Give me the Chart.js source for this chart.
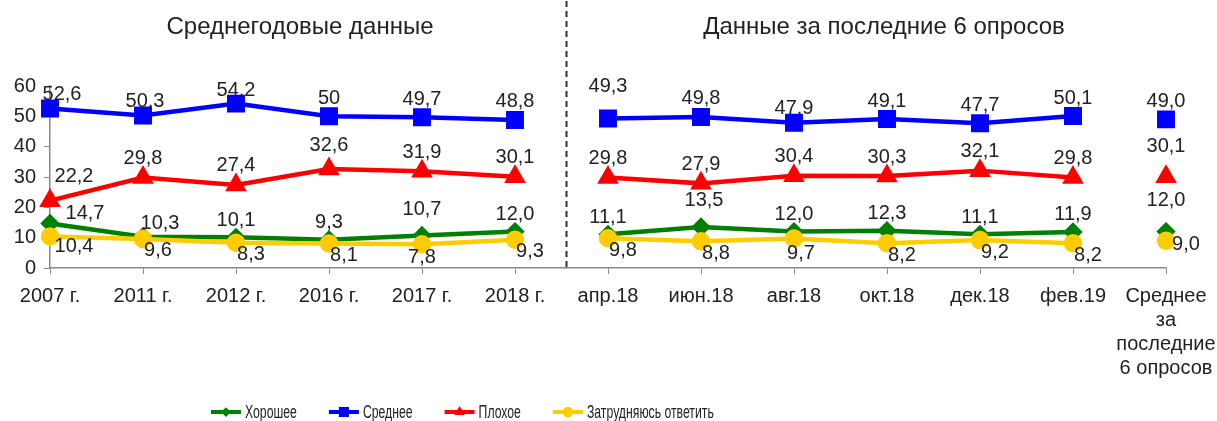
<!DOCTYPE html>
<html>
<head>
<meta charset="utf-8">
<script src="https://cdn.jsdelivr.net/npm/chart.js@4/dist/chart.umd.min.js"></script>
<style>
  html, body { margin: 0; padding: 0; background: #fff; }
</style>
</head>
<body>
<canvas id="myChart" width="1217" height="421"></canvas>
<script>

// categories: 6 yearly values, 6 last surveys, then the average of them
const categories = ['2007 г.', '2011 г.', '2012 г.', '2016 г.', '2017 г.', '2018 г.',
  'апр.18', 'июн.18', 'авг.18', 'окт.18', 'дек.18', 'фев.19',
  ['Среднее', 'за', 'последние', '6 опросов']];

const good    = [14.7, 10.3, 10.1, 9.3, 10.7, 12.0, 11.1, 13.5, 12.0, 12.3, 11.1, 11.9, 12.0];
const average = [52.6, 50.3, 54.2, 50, 49.7, 48.8, 49.3, 49.8, 47.9, 49.1, 47.7, 50.1, 49.0];
const bad     = [22.2, 29.8, 27.4, 32.6, 31.9, 30.1, 29.8, 27.9, 30.4, 30.3, 32.1, 29.8, 30.1];
const unsure  = [10.4, 9.6, 8.3, 8.1, 7.8, 9.3, 9.8, 8.8, 9.7, 8.2, 9.2, 8.2, 9.0];

const yTicks = [0, 10, 20, 30, 40, 50, 60];
const titles = ['Среднегодовые данные', 'Данные за последние 6 опросов'];

const FONT = '"Liberation Sans", Arial, sans-serif';
const TEXT = '#222';

// no line between the blocks (after 2018 г. and after фев.19)
const breakAfter = [5, 11];
const segHide = (ctx) => breakAfter.includes(ctx.p0DataIndex) ? 'rgba(0,0,0,0)' : undefined;

function fmt(v, ds, i) {
  if (ds === 1 && i === 3) return '50';
  return v.toFixed(1).replace('.', ',');
}

// label placement relative to the marker (dx, dy)
const labelPos = {
  0: { def: [0, -17], 0: [35, -10], 1: [17, -13], 4: [0, -26], 7: [3, -27], 12: [0, -31] },
  1: { def: [0, -18], 0: [12, -14], 1: [2, -14], 2: [0, -13], 6: [0, -32], 8: [0, -14] },
  2: { def: [0, -19], 0: [24, -24], 3: [0, -24], 12: [0, -30] },
  3: { def: [15, 12], 0: [24, 10], 4: [0, 13], 8: [7, 15], 12: [20, 4] }
};

const labelsPlugin = {
  id: 'pointLabels',
  afterDatasetsDraw(chart) {
    const ctx = chart.ctx;
    ctx.save();
    ctx.font = '20px ' + FONT;
    ctx.fillStyle = TEXT;
    ctx.textAlign = 'center';
    ctx.textBaseline = 'middle';
    chart.data.datasets.forEach((ds, d) => {
      const meta = chart.getDatasetMeta(d);
      meta.data.forEach((pt, i) => {
        const p = labelPos[d][i] || labelPos[d].def;
        ctx.fillText(fmt(ds.data[i], d, i), pt.x + p[0], pt.y + p[1]);
      });
    });
    ctx.restore();
  }
};

const decorPlugin = {
  id: 'decor',
  afterDraw(chart) {
    const ctx = chart.ctx;
    const x = chart.scales.x;
    const area = chart.chartArea;
    const xs = (x.getPixelForValue(5) + x.getPixelForValue(6)) / 2 + 5;
    ctx.save();
    // dashed separator
    ctx.strokeStyle = '#333';
    ctx.lineWidth = 2;
    ctx.setLineDash([6, 4]);
    ctx.beginPath();
    ctx.moveTo(xs, 1);
    ctx.lineTo(xs, area.bottom);
    ctx.stroke();
    ctx.setLineDash([]);
    // block titles
    ctx.font = '24px ' + FONT;
    ctx.fillStyle = TEXT;
    ctx.textAlign = 'center';
    ctx.textBaseline = 'middle';
    ctx.fillText(titles[0], 300, 27);
    ctx.fillText(titles[1], 884, 27);
    // legend: line + marker + name (condensed text)
    ctx.font = '18px ' + FONT;
    ctx.textAlign = 'left';
    const squeeze = 0.68;
    let lx = 211;
    const ly = 412;
    chart.data.datasets.forEach((ds) => {
      ctx.strokeStyle = ds.borderColor;
      ctx.fillStyle = ds.borderColor;
      ctx.lineWidth = 4;
      ctx.beginPath();
      ctx.moveTo(lx, ly);
      ctx.lineTo(lx + 30, ly);
      ctx.stroke();
      Chart.helpers.drawPoint(ctx, {
        pointStyle: ds.pointStyle, radius: ds.pointRadius * 0.75, rotation: 0, borderWidth: 0
      }, lx + 15, ly);
      ctx.fillStyle = TEXT;
      ctx.save();
      ctx.translate(lx + 34, ly + 1);
      ctx.scale(squeeze, 1);
      ctx.fillText(ds.label, 0, 0);
      ctx.restore();
      lx += 34 + ctx.measureText(ds.label).width * squeeze + 32;
    });
    ctx.restore();
  }
};

function series(label, data, color, style, radius, order) {
  return {
    label: label,
    data: data,
    borderColor: color,
    backgroundColor: color,
    pointBackgroundColor: color,
    pointBorderColor: color,
    pointStyle: style,
    pointRadius: radius,
    pointHoverRadius: radius,
    borderWidth: 4.5,
    tension: 0,
    fill: false,
    order: order,
    segment: { borderColor: segHide }
  };
}

var ctx = document.getElementById('myChart').getContext('2d');
var chartjs = new Chart(ctx, {
  type: 'line',
  data: {
    labels: categories,
    datasets: [
      series('Хорошее', good, '#008000', 'rectRot', 6.5, 2),
      series('Среднее', average, '#0000ff', 'rect', 9.5, 3),
      series('Плохое', bad, '#ff0000', 'triangle', 8, 1),
      series('Затрудняюсь ответить', unsure, '#ffcc00', 'circle', 7, 0)
    ]
  },
  options: {
    responsive: false,
    animation: false,
    layout: { padding: { top: 86, right: 51, left: 0, bottom: 0 } },
    plugins: {
      legend: { display: false },
      tooltip: { enabled: false }
    },
    scales: {
      x: {
        offset: false,
        afterFit: (s) => { s.height = 153; s.paddingLeft = 0; s.paddingRight = 0; },
        grid: { drawOnChartArea: false, drawTicks: true, tickLength: 6, color: '#888', offset: false },
        border: { display: true, color: '#888', width: 1.5 },
        ticks: {
          color: TEXT, font: { family: FONT, size: 20 }, padding: 10,
          maxRotation: 0, autoSkip: false
        }
      },
      y: {
        min: 0, max: 60,
        afterFit: (s) => { s.width = 50; },
        afterBuildTicks: (s) => { s.ticks = yTicks.map(v => ({ value: v })); },
        grid: { drawOnChartArea: false, drawTicks: true, tickLength: 6, color: '#888' },
        border: { display: true, color: '#888', width: 1.5 },
        ticks: { color: TEXT, font: { family: FONT, size: 20 }, padding: 8 }
      }
    }
  },
  plugins: [labelsPlugin, decorPlugin]
});

</script>
</body>
</html>
